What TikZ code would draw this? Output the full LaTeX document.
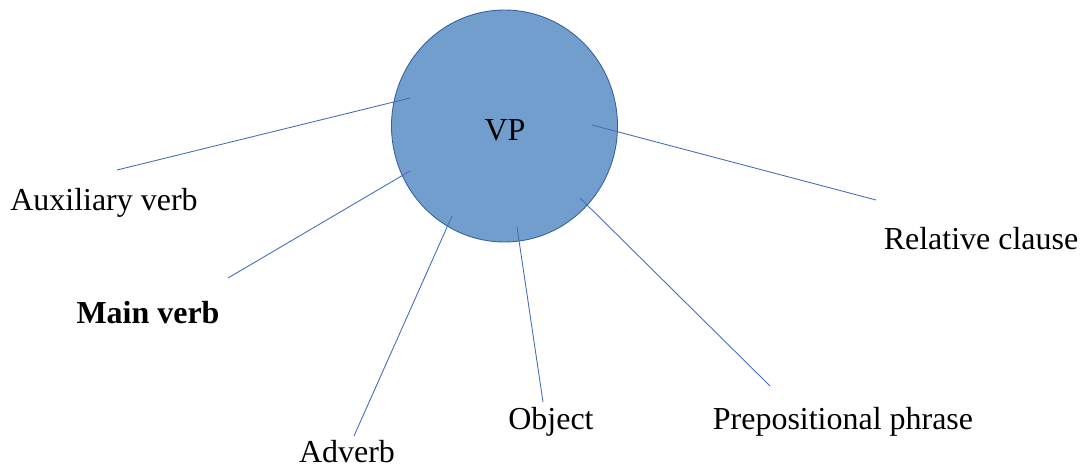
\documentclass[tikz,border=0pt]{standalone}
\usepackage{fontspec}
\setmainfont{Liberation Serif}
\definecolor{vpfill}{RGB}{114,158,206}
\definecolor{vpline}{RGB}{56,96,160}
\definecolor{ray}{RGB}{68,110,180}
\begin{document}
\begin{tikzpicture}[x=0.02cm,y=-0.02cm]

  % Fix the page size
  \useasboundingbox (0,0) rectangle (1090,470);

  % Define the center of the VP circle
  \coordinate (O) at (504.5,126);

  % Draw the circle
  \draw[vpline, fill=vpfill, line width=0.5pt] (O) ellipse (113 and 116);

  % Add the label 'VP' at the center
  \node[font=\fontsize{18.2}{22}\selectfont] (vp) at (505,130) {VP};

  % Define the inner end points of the rays
  \coordinate (aux-in) at (410,98);
  \coordinate (main-in) at (410,171);
  \coordinate (adv-in) at (452,216);
  \coordinate (obj-in) at (517,227);
  \coordinate (prep-in) at (580,198);
  \coordinate (rel-in) at (592,125);

  % Define the outer end points of the rays
  \coordinate (aux-out) at (117,170);
  \coordinate (main-out) at (228,278);
  \coordinate (adv-out) at (354,436);
  \coordinate (obj-out) at (543,402);
  \coordinate (prep-out) at (770,386);
  \coordinate (rel-out) at (876,200);

  % Draw the rays
  \draw[ray, line width=0.5pt] (aux-in) -- (aux-out);
  \draw[ray, line width=0.5pt] (main-in) -- (main-out);
  \draw[ray, line width=0.5pt] (adv-in) -- (adv-out);
  \draw[ray, line width=0.5pt] (obj-in) -- (obj-out);
  \draw[ray, line width=0.5pt] (prep-in) -- (prep-out);
  \draw[ray, line width=0.5pt] (rel-in) -- (rel-out);

  % Add the labels
  \begin{scope}[every node/.style={font=\fontsize{18.2}{22}\selectfont, inner sep=0.5pt}]
    \node (aux) at (104,203) {Auxiliary verb};
    \node[font=\fontsize{18.2}{22}\selectfont\bfseries] (main) at (148,313) {Main verb};
    \node (adv) at (347,452) {Adverb};
    \node (obj) at (551,422) {Object};
    \node (prep) at (843,422) {Prepositional phrase};
    \node (rel) at (981,239) {Relative clause};
  \end{scope}

\end{tikzpicture}
\end{document}
